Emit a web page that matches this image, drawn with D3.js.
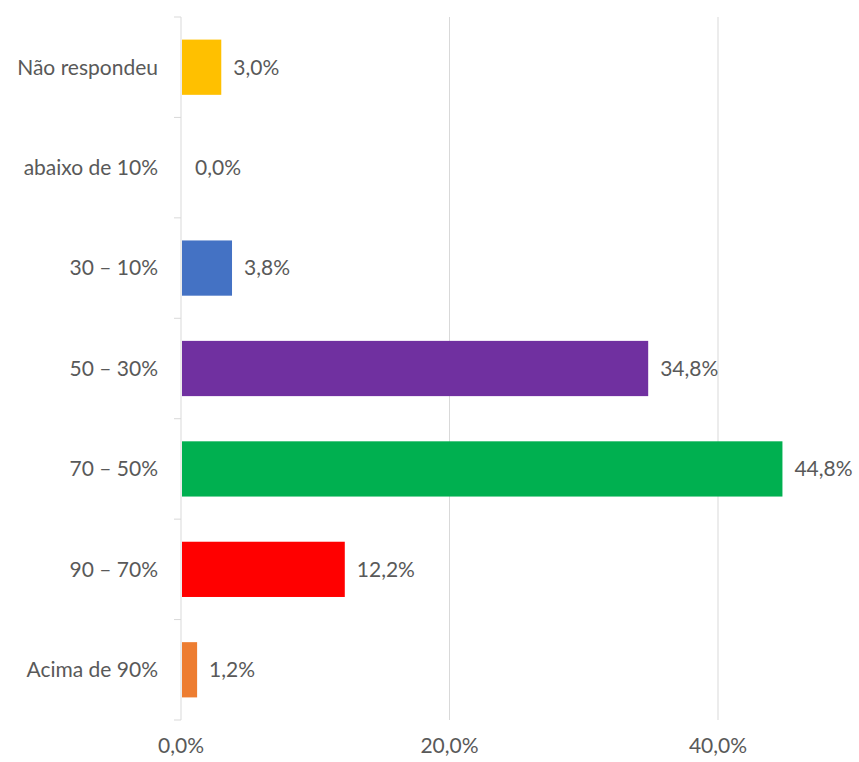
<!DOCTYPE html>
<html><head><meta charset="utf-8">
<script src="https://cdn.jsdelivr.net/npm/d3@7"></script>
<style>body{margin:0;background:#fff}text{font-family:Lato,"Open Sans",sans-serif;fill:#595959}</style>
</head><body><svg id="c" width="859" height="762"></svg>
<script>
const categories = ["Não respondeu","abaixo de 10%","30 – 10%","50 – 30%","70 – 50%","90 – 70%","Acima de 90%"];
const values = [3.0, 0.0, 3.8, 34.8, 44.8, 12.2, 1.2];
const colors = ["#FFC000","#FFFFFF","#4472C4","#7030A0","#00B050","#FF0000","#ED7D31"];
const xTicks = [0, 20, 40];

const svg = d3.select("#c");
const m = {left:181, top:17, bottom:720};
const FS = 21;
const x = d3.scaleLinear().domain([0,40]).range([181,718]);
const y = d3.scaleBand().domain(categories).range([m.top, m.bottom]).paddingInner(0.45).paddingOuter(0.225);
const fmt = v => d3.format(".1f")(v).replace(".", ",") + "%";

// gridlines
svg.append("g").selectAll("line").data(xTicks.slice(1)).join("line")
  .attr("x1", d=>x(d)).attr("x2", d=>x(d)).attr("y1", m.top).attr("y2", m.bottom)
  .attr("stroke","#d9d9d9").attr("stroke-width",1);

// y axis line and ticks
svg.append("line").attr("x1",x(0)).attr("x2",x(0)).attr("y1",m.top).attr("y2",m.bottom).attr("stroke","#d9d9d9");
svg.append("g").selectAll("line").data(d3.range(categories.length+1)).join("line")
  .attr("x1", x(0)-7).attr("x2", x(0)).attr("y1", i=>m.top+i*(m.bottom-m.top)/categories.length).attr("y2", i=>m.top+i*(m.bottom-m.top)/categories.length)
  .attr("stroke","#d9d9d9");

// bars
svg.append("g").selectAll("rect").data(values).join("rect")
  .attr("x", x(0)+1).attr("y",(d,i)=>y(categories[i]))
  .attr("width", d=>Math.max(0, x(d)-x(0)-1)).attr("height", y.bandwidth())
  .attr("fill",(d,i)=>colors[i]);

// value labels
svg.append("g").selectAll("text").data(values).join("text")
  .attr("x", d=>x(d)+ (d>0?12:14)).attr("y",(d,i)=>y(categories[i])+y.bandwidth()/2)
  .attr("dy","0.35em").attr("font-size",FS).text(d=>fmt(d));

// category labels
svg.append("g").selectAll("text").data(categories).join("text")
  .attr("x", 158).attr("y", d=>y(d)+y.bandwidth()/2).attr("dy","0.35em")
  .attr("text-anchor","end").attr("font-size",FS).text(d=>d);

// x tick labels
svg.append("g").selectAll("text").data(xTicks).join("text")
  .attr("x", d=>x(d)).attr("y", 746).attr("dy","0.35em").attr("text-anchor","middle")
  .attr("font-size",FS).text(d=>fmt(d));
</script></body></html>
